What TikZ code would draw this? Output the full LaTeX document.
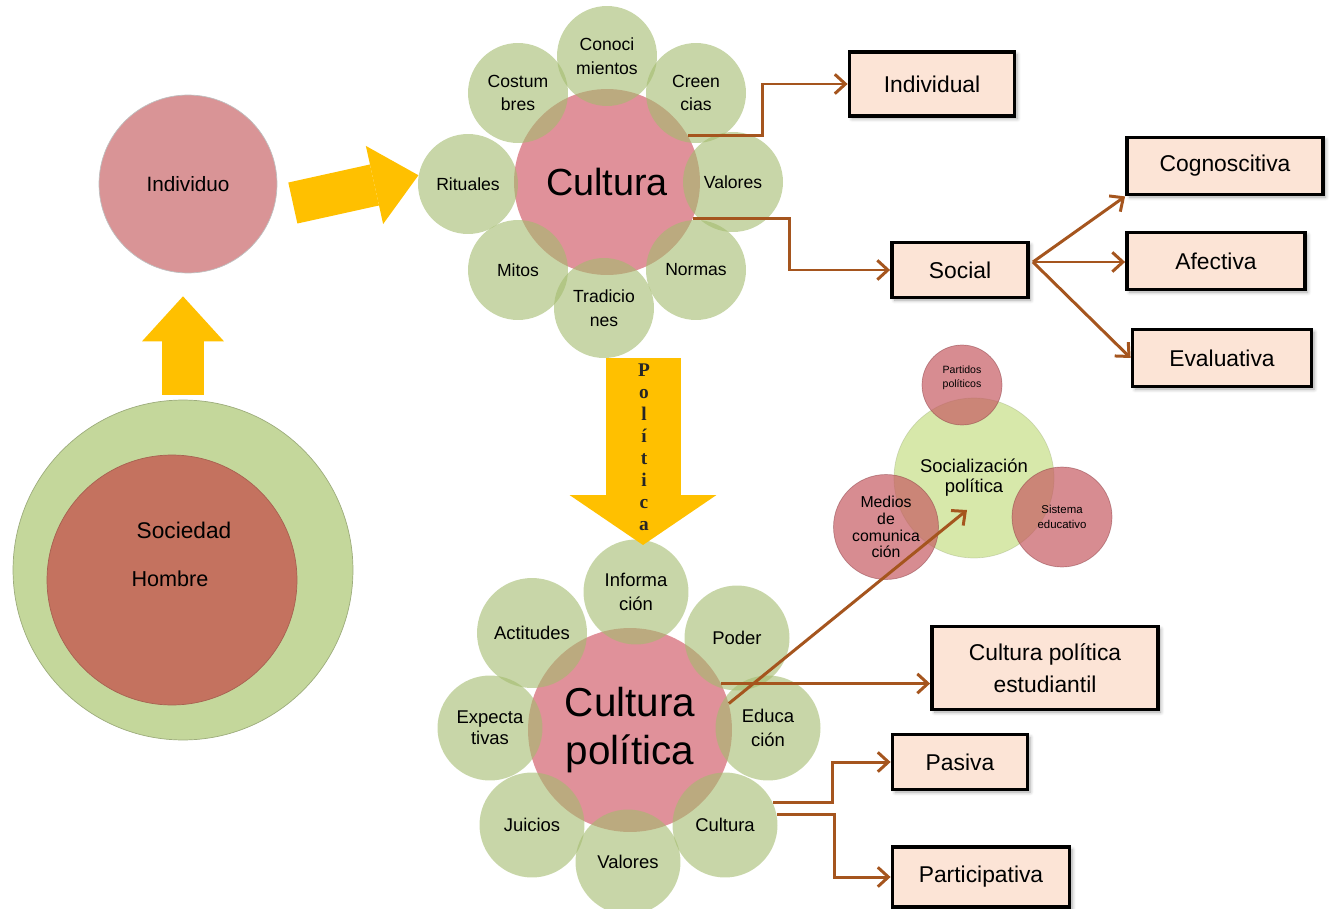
\documentclass[tikz,border=0pt]{standalone}
\usepackage{fontspec}
\setmainfont{Liberation Sans}
\newfontfamily\polfont{Liberation Serif}
\usepackage{tikz}
\usetikzlibrary{arrows.meta,calc,shadows.blur}
\definecolor{arrowyellow}{HTML}{FFC000}
\definecolor{petalgreen}{HTML}{A3BB6E}
\definecolor{corepink}{HTML}{E0919A}
\definecolor{indpink}{HTML}{D99496}
\definecolor{ringgreen}{HTML}{C4D79B}
\definecolor{hombrered}{HTML}{C4725F}
\definecolor{sozgreen}{HTML}{D7E8AA}
\definecolor{sozpink}{HTML}{C65B62}
\definecolor{boxpeach}{HTML}{FCE4D6}
\definecolor{linkbrown}{HTML}{A5551E}
\tikzset{
  core/.style={circle, fill=corepink, inner sep=0pt, align=center, text=black},
  petal/.style={circle, fill=petalgreen, fill opacity=0.6, text opacity=1, inner sep=0pt,
    minimum size=2cm, align=center, font=\fontsize{10}{13.5}\selectfont},
  sozpetal/.style={circle, fill=sozpink, fill opacity=0.7, text opacity=1, inner sep=0pt,
    draw=sozpink!70!black, draw opacity=0.5, align=center},
  box/.style={draw=black, line width=2.2pt, fill=boxpeach, align=center, inner sep=2pt,
    font=\fontsize{13}{18}\selectfont,
    blur shadow={shadow xshift=1.5pt, shadow yshift=-1.5pt, shadow blur steps=6, shadow opacity=35}},
  link/.style={draw=linkbrown, line width=1.7pt, -{Straight Barb[length=6pt,width=11pt]}},
  fatarrow/.style={draw=arrowyellow, fill=arrowyellow},
}

\begin{document}
\begin{tikzpicture}[x=0.02cm, y=-0.02cm]
\useasboundingbox (0,0) rectangle (1335,909);

% Sociedad / Hombre
\node[circle, fill=ringgreen, draw=ringgreen!80!black, minimum size=6.8cm] (soc) at (183,570) {};
\node[circle, fill=hombrered, draw=hombrered!85!black, minimum size=5cm] (hom) at (172,580) {};
\node[font=\fontsize{12.9}{14}\selectfont] (socT) at (184,530) {Sociedad};
\node[font=\fontsize{12.3}{14}\selectfont] (homT) at (170,579) {Hombre};

% Individuo
\node[core, fill=indpink, draw=black!25, minimum size=3.56cm,
  font=\fontsize{11.8}{13}\selectfont] (ind) at (188,184) {Individuo};

% Cultura flower
\node[core, minimum size=3.72cm, font=\fontsize{21.5}{24}\selectfont] (cult) at (607,182) {Cultura};
\node[petal] (conoc)  at (607,56)  {Conoci\\mientos};
\node[petal] (costum) at (518,93)  {Costum\\bres};
\node[petal] (creen)  at (696,93)  {Creen\\cias};
\node[petal] (rit)    at (468,184) {Rituales};
\node[petal] (val)    at (733,182) {Valores};
\node[petal] (mitos)  at (518,270) {Mitos};
\node[petal] (normas) at (696,270) {Normas};
\node[petal] (trad)   at (604,308) {Tradicio\\nes};

% Cultura politica flower
\node[core, minimum size=4.08cm, font=\fontsize{23}{27}\selectfont] (cpol) at (630,730) {Cultura\\pol\'{\i}tica};
\node[petal, minimum size=2.1cm, font=\fontsize{10.5}{14}\selectfont] (info)  at (636,592) {Informa\\ci\'on};
\node[petal, minimum size=2.2cm, font=\fontsize{10.5}{14}\selectfont] (actit) at (532,633) {Actitudes};
\node[petal, minimum size=2.1cm, font=\fontsize{10.5}{14}\selectfont] (poder) at (737,638) {Poder};
\node[petal, minimum size=2.1cm, font=\fontsize{10.5}{12}\selectfont] (expec) at (490,728) {Expecta\\tivas};
\node[petal, minimum size=2.1cm, font=\fontsize{10.5}{14}\selectfont] (educ)  at (768,728) {Educa\\ci\'on};
\node[petal, minimum size=2.1cm, font=\fontsize{10.5}{14}\selectfont] (juic)  at (532,825) {Juicios};
\node[petal, minimum size=2.1cm, font=\fontsize{10.5}{14}\selectfont] (pcult) at (725,825) {Cultura};
\node[petal, minimum size=2.1cm, font=\fontsize{10.5}{14}\selectfont] (pval)  at (628,862) {Valores};

% Socializacion politica
\node[circle, fill=sozgreen, draw=sozgreen!75!black, draw opacity=0.4, minimum size=3.2cm, inner sep=0pt,
  align=center, font=\fontsize{10.5}{11.3}\selectfont] (socz) at (974,478) {Socializaci\'on\\pol\'{\i}tica};
\node[sozpetal, minimum size=1.6cm, font=\fontsize{6}{8.5}\selectfont] (partid) at (962,385) {Partidos\\pol\'{\i}ticos\\[1pt]};
\node[sozpetal, minimum size=2.1cm, font=\fontsize{9}{9.6}\selectfont] (medios) at (886,527) {Medios\\de\\comunica\\ci\'on};
\node[sozpetal, minimum size=2cm, font=\fontsize{6.5}{8.5}\selectfont] (sistema) at (1062,517) {Sistema\\educativo};

% Boxes
\node[box, minimum width=3.3cm, minimum height=1.28cm] (indiv) at (932,84) {Individual};
\node[box, minimum width=2.72cm, minimum height=1.1cm] (social) at (960,270) {Social};
\node[box, minimum width=3.92cm, minimum height=1.14cm] (cogn) at (1225,166) {Cognoscitiva};
\node[box, minimum width=3.56cm, minimum height=1.14cm] (afect) at (1216,261) {Afectiva};
\node[box, minimum width=3.58cm, minimum height=1.14cm] (evalu) at (1222,358) {Evaluativa};
\node[box, minimum width=4.52cm, minimum height=1.66cm] (cpe) at (1045,668) {Cultura pol\'{\i}tica\\estudiantil};
\node[box, minimum width=2.7cm, minimum height=1.1cm] (pasiva) at (960,762) {Pasiva};
\node[box, minimum width=3.54cm, minimum height=1.2cm] (partic) at (981,877) {Participativa};

% Brown connectors
\coordinate (socOut) at ($(social.east)+(3,-8)$);
\draw[link] (cult.30) -- ++(75,0) |- (indiv.west);
\draw[link] (cult.-23) -- ++(97,0) |- (social.west);
\draw[link] (socOut) -- (cogn.south west);
\draw[link] (socOut) -- (socOut -| afect.west);
\draw[link] (socOut) -- (evalu.west);
\draw[link] (cpol.15) -- ($(socz.center)+(-7,32)$);
\draw[link] (cpol.27) -- (cpol.27 -| cpe.west);
\draw[link] (pcult.25) -- ++(60,0) |- (pasiva.west);
\draw[link] (pcult.11) -- ++(58,0) |- (partic.west);

% Yellow arrows
\draw[fatarrow, line width=0.86cm, shorten <=0.1cm, shorten >=0.46cm,
  -{Triangle[width=1.64cm,length=0.9cm,line width=0pt]}] (soc.north) -- (soc.north |- ind.south);
\draw[fatarrow, line width=0.84cm, shorten <=0.38cm,
  -{Triangle[width=1.6cm,length=0.9cm,line width=0pt]}] (ind.-15) -- (rit.170);
\coordinate (polTop) at (643,358);
\coordinate (polTip) at (643,545);
\draw[fatarrow, line width=1.5cm,
  -{Triangle[width=2.94cm,length=1cm,line width=0pt]}] (polTop) -- (polTip);
\node[font=\polfont\bfseries\fontsize{11}{12.5}\selectfont, align=center, text=black!85] (polT)
  at (644,447) {P\\o\\l\\\'{\i}\\t\\i\\c\\a};

\end{tikzpicture}
\end{document}
